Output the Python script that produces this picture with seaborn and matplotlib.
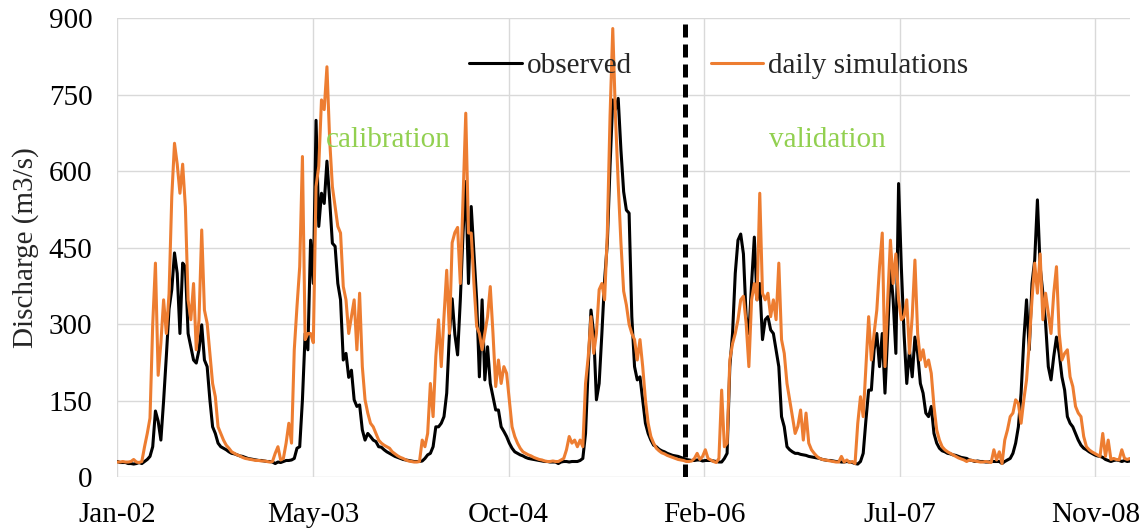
import numpy as np
import pandas as pd
import matplotlib
matplotlib.use("Agg")
import matplotlib.pyplot as plt
import seaborn as sns

# Weekly discharge (m3/s), starting 2002-01-01
start_date = "2002-01-01"
split_date = "2006-01-01"   # end of calibration / start of validation

observed = [
    31, 29, 29, 29, 27, 27, 26, 27, 29, 27,
    31, 35, 41, 60, 130, 110, 73, 150, 237, 330,
    368, 440, 400, 282, 420, 413, 282, 256, 230, 224,
    250, 299, 230, 217, 152, 99, 86, 67, 60, 57,
    54, 50, 47, 46, 44, 42, 41, 39, 37, 36,
    35, 34, 33, 33, 32, 31, 31, 30, 27, 30,
    29, 31, 33, 33, 34, 37, 57, 60, 152, 282,
    250, 465, 380, 700, 492, 557, 537, 620, 544, 459,
    453, 380, 348, 230, 243, 196, 210, 152, 139, 142,
    93, 73, 86, 80, 73, 70, 60, 59, 54, 50,
    47, 44, 41, 39, 37, 35, 34, 33, 32, 31,
    31, 31, 32, 37, 44, 47, 60, 99, 99, 106,
    119, 165, 282, 350, 280, 240, 348, 479, 580, 380,
    531, 441, 348, 197, 348, 191, 256, 184, 158, 132,
    132, 99, 90, 80, 67, 57, 50, 47, 44, 42,
    39, 37, 36, 35, 34, 33, 32, 31, 31, 30,
    30, 30, 27, 30, 31, 31, 30, 31, 31, 31,
    33, 37, 86, 217, 328, 282, 152, 184, 282, 387,
    459, 610, 740, 721, 743, 642, 560, 524, 518, 315,
    217, 191, 197, 152, 106, 86, 73, 63, 60, 55,
    52, 50, 47, 45, 43, 42, 41, 39, 37, 35,
    34, 33, 33, 34, 34, 32, 33, 33, 33, 32,
    31, 30, 30, 37, 47, 217, 282, 400, 465, 477,
    438, 315, 282, 380, 471, 348, 380, 270, 309, 315,
    289, 282, 250, 217, 119, 99, 60, 54, 50, 47,
    47, 45, 44, 43, 41, 40, 39, 38, 37, 35,
    34, 33, 33, 32, 31, 31, 30, 30, 31, 30,
    29, 27, 26, 31, 47, 112, 171, 171, 250, 282,
    217, 282, 165, 282, 413, 348, 243, 576, 413, 282,
    184, 250, 197, 275, 243, 184, 165, 126, 119, 139,
    86, 67, 57, 52, 50, 47, 46, 44, 43, 41,
    39, 38, 37, 34, 33, 31, 32, 31, 31, 30,
    30, 31, 31, 31, 31, 27, 31, 34, 37, 47,
    67, 99, 165, 270, 348, 250, 380, 426, 544, 413,
    361, 302, 217, 191, 237, 275, 243, 197, 171, 119,
    106, 99, 86, 73, 63, 57, 54, 50, 47, 44,
    42, 41, 39, 35, 33, 31, 33, 34, 33, 31,
    33, 31, 32,
]

simulated = [
    30, 30, 31, 30, 30, 31, 35, 30, 29, 31,
    60, 86, 116, 300, 420, 200, 263, 348, 282, 360,
    550, 655, 614, 557, 614, 530, 348, 309, 380, 250,
    309, 485, 328, 302, 243, 184, 158, 99, 86, 73,
    63, 57, 50, 47, 44, 42, 39, 37, 36, 35,
    34, 33, 33, 32, 32, 31, 30, 31, 47, 60,
    34, 37, 67, 106, 67, 250, 335, 413, 629, 270,
    282, 282, 264, 570, 610, 740, 721, 805, 662, 570,
    531, 492, 479, 374, 348, 282, 315, 348, 250, 361,
    217, 152, 126, 106, 99, 86, 73, 67, 63, 60,
    57, 50, 46, 42, 39, 37, 34, 32, 31, 30,
    30, 31, 73, 60, 86, 184, 119, 237, 309, 217,
    315, 406, 282, 460, 480, 490, 380, 544, 714, 479,
    479, 380, 296, 282, 250, 282, 315, 374, 282, 178,
    230, 184, 217, 204, 152, 99, 80, 67, 57, 50,
    47, 44, 42, 39, 37, 35, 34, 32, 31, 31,
    32, 31, 31, 34, 37, 54, 80, 67, 73, 60,
    73, 60, 184, 237, 315, 243, 282, 368, 380, 348,
    479, 708, 880, 708, 576, 460, 365, 338, 300, 282,
    270, 230, 270, 217, 152, 106, 80, 67, 57, 52,
    48, 46, 43, 41, 39, 37, 35, 34, 33, 31,
    31, 32, 37, 47, 35, 41, 54, 37, 34, 31,
    29, 37, 171, 60, 67, 230, 262, 282, 309, 348,
    355, 302, 217, 348, 380, 348, 557, 361, 348, 361,
    315, 348, 309, 420, 270, 243, 184, 152, 119, 86,
    100, 132, 73, 126, 67, 54, 47, 41, 37, 35,
    34, 33, 32, 31, 30, 30, 41, 30, 34, 29,
    31, 27, 106, 158, 119, 217, 315, 230, 282, 328,
    413, 479, 217, 348, 465, 380, 438, 348, 309, 315,
    348, 243, 315, 426, 282, 230, 250, 217, 230, 204,
    139, 93, 73, 60, 54, 50, 47, 44, 41, 38,
    36, 34, 31, 34, 33, 32, 31, 30, 30, 31,
    30, 29, 54, 34, 50, 27, 73, 93, 119, 126,
    152, 145, 106, 152, 191, 263, 348, 420, 361, 438,
    309, 361, 322, 282, 361, 413, 282, 230, 243, 250,
    197, 178, 139, 126, 119, 80, 60, 54, 50, 47,
    44, 41, 86, 41, 73, 35, 37, 35, 34, 54,
    37, 35, 37,
]

x_tick_labels = ["Jan-02", "May-03", "Oct-04", "Feb-06", "Jul-07", "Nov-08"]
x_tick_step_days = 503
y_ticks = [0, 150, 300, 450, 600, 750, 900]

period_labels = ["calibration", "validation"]
period_label_dates = ["2003-06-21", "2006-08-05"]
period_label_level = 648

FS = 21

# ---------------------------------------------------------------------------
sns.set_style("white")
plt.rcParams["font.family"] = ["Liberation Serif", "DejaVu Serif"]

dates = pd.date_range(start_date, periods=len(observed), freq="7D")
df = pd.DataFrame({"date": dates, "observed": observed, "simulated": simulated})

fig = plt.figure(figsize=(11.48, 5.28), dpi=100)
ax = fig.add_axes([0.1022, 0.0960, 0.9843 - 0.1022, 0.9653 - 0.0960])

sns.lineplot(data=df, x="date", y="observed", ax=ax, color="black",
             linewidth=2.2, label="observed")
sns.lineplot(data=df, x="date", y="simulated", ax=ax, color="#ED7D31",
             linewidth=2.2, label="daily simulations")

# calibration / validation split
ax.axvline(pd.Timestamp(split_date), ymin=0, ymax=1, color="black",
           linewidth=3.6, dashes=(2.6, 1.4), zorder=5)

for text, d in zip(period_labels, period_label_dates):
    ax.text(pd.Timestamp(d), period_label_level, text, color="#92D050",
            fontsize=FS, ha="left", va="baseline")

tick_dates = [pd.Timestamp(start_date) + pd.Timedelta(days=i * x_tick_step_days)
              for i in range(len(x_tick_labels))]
ax.set_xticks(tick_dates)
ax.set_xticklabels(x_tick_labels)
ax.set_xlim(dates[0], dates[-1])

ax.set_yticks(y_ticks)
ax.set_ylim(0, 900)

ax.grid(True, color="#d9d9d9", linewidth=1.0)
ax.set_axisbelow(True)
for s in ax.spines.values():
    s.set_visible(False)

ax.tick_params(axis="both", which="major", labelsize=FS, colors="#d9d9d9",
               labelcolor="black", length=7, width=1.0)
ax.tick_params(axis="y", pad=11)
ax.tick_params(axis="x", pad=11)

ax.set_xlabel("")
ax.set_ylabel("Discharge (m3/s)", fontsize=FS, labelpad=7)

ax.legend(loc="center left", bbox_to_anchor=(0.3476, 0.897), ncol=2,
          frameon=False, fontsize=FS, handlelength=1.8, handletextpad=0.17,
          columnspacing=2.7, borderpad=0, borderaxespad=0)

fig.savefig("out.png", dpi=100)
